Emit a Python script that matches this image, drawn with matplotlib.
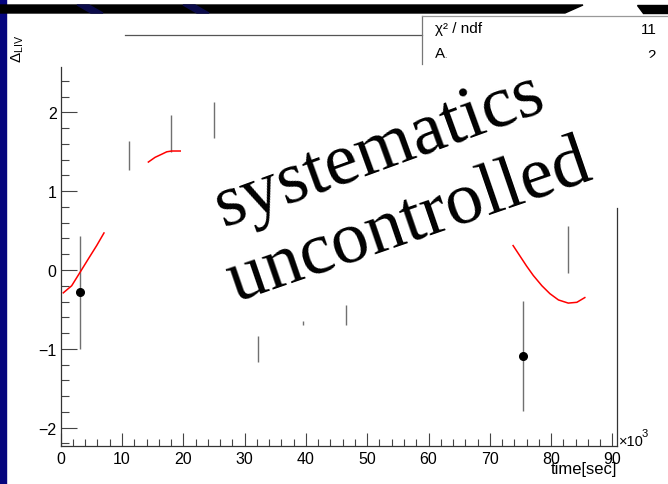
import matplotlib
matplotlib.use("Agg")
import matplotlib.pyplot as plt
from matplotlib.patches import Rectangle, Polygon
from matplotlib.ticker import MultipleLocator

plt.rcParams['font.family'] = ['Liberation Sans', 'DejaVu Sans']
plt.rcParams['mathtext.fontset'] = 'custom'
plt.rcParams['mathtext.rm'] = 'Liberation Sans'
plt.rcParams['mathtext.it'] = 'Liberation Sans:italic'

# data points (time in 10^3 s), error bars only where visible
err_x = [3.15, 11.1, 18.0, 25.0, 32.2, 39.5, 46.5, 75.4, 82.8]
err_lo = [-1.00, 1.27, 1.50, 1.68, -1.17, -0.70, -0.70, -1.79, -0.04]
err_hi = [0.43, 1.64, 1.97, 2.13, -0.84, -0.65, -0.44, -0.39, 0.56]
dot_x = [3.15, 75.4]
dot_y = [-0.28, -1.09]

# visible pieces of the fit curve
fit_a_x = [0.42, 1.79, 3.15, 4.50, 5.87, 7.06]
fit_a_y = [-0.29, -0.20, -0.03, 0.14, 0.31, 0.47]
fit_b_x = [14.3, 15.4, 16.5, 17.3, 18.1, 19.5]
fit_b_y = [1.37, 1.43, 1.47, 1.50, 1.51, 1.51]
fit_c_x = [73.8, 74.9, 76.0, 77.1, 78.5, 79.8, 81.2, 82.8, 84.2, 85.5]
fit_c_y = [0.31, 0.18, 0.05, -0.07, -0.20, -0.30, -0.38, -0.42, -0.41, -0.35]

W, H = 668, 485
fig = plt.figure(figsize=(W / 100, H / 100), dpi=100)

# slide background
bg = fig.add_axes([0, 0, 1, 1], zorder=-1)
bg.set_xlim(0, W)
bg.set_ylim(H, 0)
bg.axis('off')
bg.add_patch(Rectangle((0, 0), W, H, color='white'))
bg.add_patch(Rectangle((0, 0), 6, H, color='#06067e'))
bg.add_patch(Polygon([(0, 6), (565, 6), (583, 6), (565, 14), (0, 14)], color='black'))
bg.add_patch(Polygon([(637, 6), (W, 6), (W, 14), (643, 14)], color='black'))
for x0 in (77, 183):
    bg.add_patch(Polygon([(x0, 6), (x0 + 12, 6), (x0 + 26, 14), (x0 + 14, 14)],
                         color='#0a0a4a'))

# main frame
x0, x1 = 60.7, 617
y0, y1 = 446.7, 68
ax = fig.add_axes([x0 / W, 1 - y0 / H, (x1 - x0) / W, (y0 - y1) / H])
ax.set_facecolor('none')
ax.set_xlim(0, (x1 - x0) / 6.13)
ax.set_ylim((271 - y0) / 78.8, (271 - y1) / 78.8)

ax.vlines(err_x, err_lo, err_hi, color='#707070', lw=1)
ax.plot(dot_x, dot_y, 'o', color='black', ms=5.5)
for fx, fy in ((fit_a_x, fit_a_y), (fit_b_x, fit_b_y), (fit_c_x, fit_c_y)):
    ax.plot(fx, fy, color='red', lw=1.1)

ax.spines['top'].set_visible(False)
ax.spines['right'].set_bounds(ax.get_ylim()[0], (271 - 209) / 78.8)
for s in ('left', 'bottom', 'right'):
    ax.spines[s].set_color('#333333')
    ax.spines[s].set_linewidth(0.9)

ax.xaxis.set_major_locator(MultipleLocator(10))
ax.xaxis.set_minor_locator(MultipleLocator(2))
ax.yaxis.set_major_locator(MultipleLocator(1))
ax.yaxis.set_minor_locator(MultipleLocator(0.2))
ax.tick_params(axis='both', which='both', direction='in', colors='#444444',
               labelcolor='black', labelsize=11.5, width=0.8)
ax.tick_params(axis='y', which='major', length=11.5, pad=3)
ax.tick_params(axis='y', which='minor', length=5.8)
ax.tick_params(axis='x', which='major', length=9.4, pad=4)
ax.tick_params(axis='x', which='minor', length=4.7)

# overlay (stats box, labels, stamp text)
ov = fig.add_axes([0, 0, 1, 1], zorder=10)
ov.set_xlim(0, W)
ov.set_ylim(H, 0)
ov.axis('off')
ov.patch.set_alpha(0)

ov.plot([125, 422], [36, 36], color='#555555', lw=0.9)
ov.plot([422, 422], [17, 65], color='#777777', lw=0.9)
ov.plot([422, W], [16.5, 16.5], color='#999999', lw=0.9)
ov.text(435, 29, 'χ² / ndf', fontsize=11, va='center')
ov.text(657, 30, '11', fontsize=11, va='center', ha='right')
ov.text(435, 54, 'A', fontsize=11, va='center')
ov.text(444, 56, '.', fontsize=6, va='center')
ov.text(656, 56, '2', fontsize=11, va='center', ha='right')
ov.add_patch(Rectangle((424, 59), W - 424, 8, color='white', zorder=3))

ov.text(18, 49, r'$\Delta_{\mathregular{LIV}}$', fontsize=11, rotation=90,
        ha='center', va='center')
ov.text(617, 470, 'time[sec]', fontsize=12, ha='right', va='center')
ov.text(619, 446, '×10', fontsize=10.5, ha='left', va='baseline')
ov.text(642, 437, '3', fontsize=8, ha='left', va='baseline')

ov.text(380, 151, 'systematics', family='Liberation Serif', fontsize=54,
        rotation=20, rotation_mode='anchor', ha='center', va='center', zorder=5)
ov.text(409, 223, 'uncontrolled', family='Liberation Serif', fontsize=54,
        rotation=19, rotation_mode='anchor', ha='center', va='center', zorder=5)

fig.savefig('out.png', dpi=100)
